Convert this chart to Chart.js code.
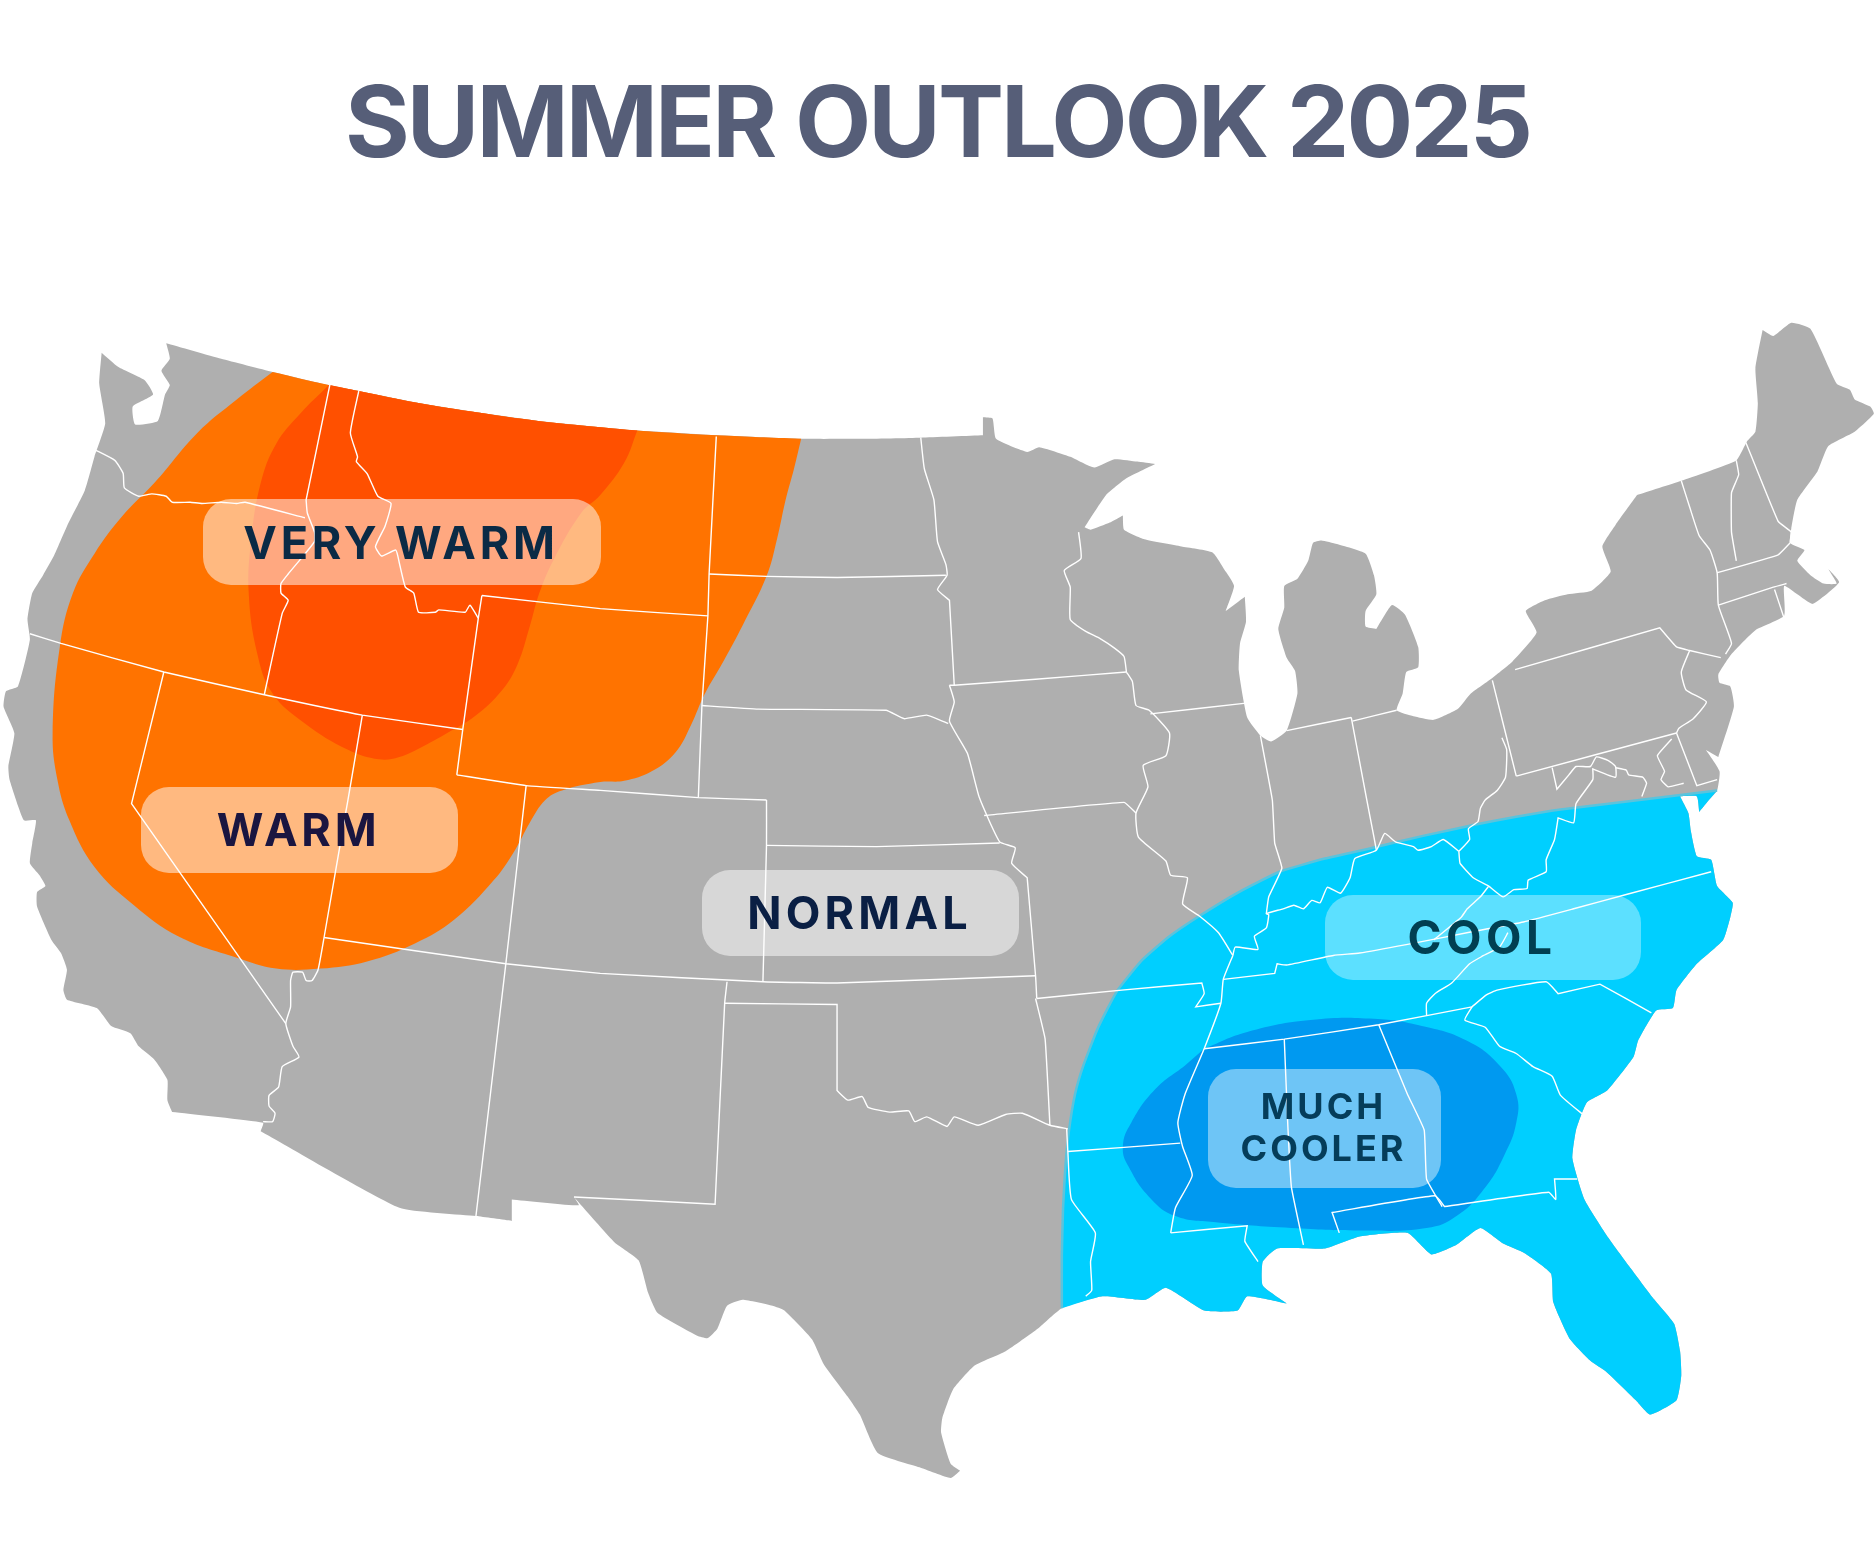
<!DOCTYPE html>
<html><head><meta charset="utf-8"><title>Summer Outlook 2025</title>
<style>html,body{margin:0;padding:0;background:#fff}canvas{display:block}</style>
<script src="https://cdn.jsdelivr.net/npm/chart.js@4"></script></head>
<body><canvas id="c" width="1875" height="1554"></canvas>
<script>
const chartTitle = "SUMMER OUTLOOK 2025";
const regionLabels = [["VERY WARM"],["WARM"],["NORMAL"],["COOL"],["MUCH","COOLER"]];

// Map data in map units (x 0-1568, y 0-1300)
const northBorder = [[139,287],[185,300],[228,311],[275,322],[300,327],[350,337],[400,345],[450,352],[500,357],[533,360],[600,364],[670,367],[720,367],[770,366],[822,364]];
const greatLakesShore = [[822,364],[822,349],[822,349],[830,350],[833,367],[859,378],[869,374],[895,382],[915,391],[932,384],[951,386],[966,388],[966,388],[942,400],[925,414],[907,441],[907,441],[912,443],[928,437],[939,431],[939,431],[940,443],[957,451],[988,457],[1014,462],[1025,478],[1032,490],[1025,511],[1025,511],[1041,499],[1041,499],[1042,520],[1037,538],[1036,561],[1043,600],[1054,615],[1063,620],[1076,611],[1085,580],[1083,561],[1076,550],[1069,526],[1074,508],[1074,490],[1085,484],[1094,469],[1098,454],[1105,452],[1118,455],[1142,463],[1149,481],[1151,497],[1142,511],[1142,524],[1151,526],[1151,526],[1164,506],[1175,514],[1186,541],[1186,558],[1176,562],[1173,580],[1168,594],[1182,599],[1199,602],[1219,593],[1230,580],[1248,567],[1265,553],[1285,529],[1276,511],[1292,502],[1311,497],[1331,494],[1347,478],[1340,457],[1351,439],[1369,414],[1369,414]];
const northeastCoast = [[1406,402],[1452,385],[1461,369],[1468,361],[1470,337],[1468,308],[1474,276],[1474,276],[1483,281],[1498,270],[1514,275],[1536,321],[1547,326],[1551,334],[1564,340],[1567,346],[1551,361],[1529,373],[1520,394],[1503,418],[1498,442],[1497,454],[1509,460],[1503,469],[1514,481],[1525,488],[1536,488],[1529,476],[1538,487],[1516,505],[1503,497],[1492,490],[1492,515],[1468,527],[1448,547],[1437,564],[1438,571],[1447,574],[1450,591],[1437,633],[1437,633],[1422,624],[1412,607],[1412,607],[1425,625],[1438,645]];
const southeastCoast = [[1436,661],[1430,668],[1421,679],[1421,679],[1419,666],[1405,666],[1405,666],[1412,680],[1414,695],[1419,716],[1431,719],[1436,741],[1449,755],[1447,767],[1441,786],[1419,806],[1402,828],[1399,843],[1385,845],[1370,870],[1366,884],[1344,912],[1327,922],[1318,945],[1315,969],[1325,1003],[1345,1035],[1364,1061],[1382,1085],[1400,1107],[1405,1130],[1406,1150],[1402,1171],[1380,1183],[1368,1171],[1343,1147],[1330,1138],[1313,1120],[1299,1089],[1297,1065],[1275,1048],[1257,1040],[1238,1027],[1218,1041],[1197,1049],[1177,1031],[1137,1034],[1108,1044],[1068,1044],[1056,1055],[1056,1075],[1076,1090],[1076,1090],[1043,1084],[1035,1096],[1007,1096],[975,1077],[958,1087],[922,1084],[888,1094]];
const texasCoast = [[868,1111],[841,1130],[815,1142],[797,1162],[788,1186],[787,1198],[795,1224],[803,1230],[803,1230],[795,1236],[769,1227],[734,1215],[719,1183],[709,1168],[689,1141],[679,1120],[656,1096],[646,1092],[621,1087],[608,1092],[600,1111],[592,1119],[583,1117],[550,1098],[542,1081],[534,1054],[514,1039],[487,1009],[480,1001],[480,1001]];
const mexicoBorder = [[484,1008],[428,1003],[428,1003],[428,1021],[428,1021],[398,1017],[334,1010],[218,946],[218,946],[220,939],[144,930],[144,930]];
const pacificCoast = [[140,920],[140,903],[129,886],[116,875],[109,864],[93,858],[81,843],[56,836],[53,828],[56,811],[51,797],[43,786],[31,758],[31,746],[38,741],[33,732],[25,722],[27,705],[30,686],[20,686],[8,652],[7,641],[12,613],[3,591],[5,578],[15,574],[25,535],[23,518],[27,496],[36,481],[45,465],[56,440],[71,410],[79,382],[88,354],[83,321],[85,295],[85,295],[99,307],[121,318],[128,330],[111,340],[113,355],[132,352],[138,330],[142,322],[135,310],[142,300],[139,287],[139,287]];

const warmEdge = [[670,367],[664,392],[657,418],[650,450],[641,482],[621,523],[605,553],[589,581],[578,606],[565,629],[545,645],[522,653],[502,654],[470,661],[456,669],[443,688],[430,712],[413,736],[380,769],[347,789],[307,804],[268,810],[231,810],[198,801],[149,783],[112,757],[79,725],[58,686],[48,652],[44,613],[50,541],[61,496],[79,463],[102,432],[129,404],[165,362],[198,334],[228,311]];
const veryWarmEdge = [[533,360],[522,387],[502,414],[486,429],[463,468],[451,496],[443,524],[433,555],[420,577],[397,599],[374,613],[354,624],[334,633],[317,635],[291,627],[255,605],[228,580],[215,546],[208,496],[210,452],[218,404],[231,371],[251,346],[275,322]];
const coolEdge = [[888,1094],[888,1050],[889,1010],[891,975],[894,945],[899,915],[906,891],[918,860],[934,829],[955,803],[978,783],[1003,766],[1036,746],[1070,729],[1108,718],[1148,709],[1190,699],[1232,690],[1268,683],[1305,677],[1371,669],[1436,661]];
const muchCoolerEdge = [[1007,877],[1043,863],[1096,853],[1149,852],[1189,858],[1226,870],[1254,891],[1268,915],[1268,939],[1258,966],[1242,993],[1218,1017],[1193,1027],[1137,1029],[1080,1027],[1015,1022],[983,1017],[962,1002],[944,976],[939,959],[946,939],[966,911],[991,891]];

const waOr = [[79,376],[96,385],[103,396],[104,408],[116,415],[127,413],[139,415],[144,420],[159,420],[169,421],[185,420],[198,421],[205,420],[255,433]];
const waId = [[276,321],[256,418],[256,418],[257,429],[263,445],[263,453],[251,468],[241,480],[235,488],[235,496],[241,502],[236,513],[221,581]];
const orCa = [[25,530],[51,538],[137,562],[221,581],[303,598],[387,610]];
const idMt = [[300,327],[293,362],[299,382],[298,386],[307,396],[316,415],[327,421],[322,440],[314,457],[319,465],[331,460],[334,471],[339,491],[346,496],[350,512],[364,512],[367,510],[389,512],[393,506],[400,517]];
const wyWest = [[403,498],[400,517],[387,610],[382,648]];
const wyNorth = [[403,498],[502,509],[592,515]];
const wyCoSouth = [[382,648],[440,657],[502,661],[584,667],[641,669]];
const mtDakota = [[599,365],[593,480],[592,515],[587,590],[584,667]];
const ndSd = [[593,480],[641,482],[700,483],[791,481]];
const sdNe = [[587,590],[634,593],[741,594],[756,601],[775,598],[793,605]];
const mnDakota = [[770,366],[773,392],[781,418],[784,453],[791,472],[792,481],[784,493],[794,502],[794,502],[798,573]];
const mnIa = [[794,573],[798,573],[866,568],[942,562]];
const missouriRiver = [[794,573],[798,587],[794,603],[809,630],[819,667],[836,704],[849,709],[846,722],[859,734],[859,734],[866,816],[867,835]];
const iaMo = [[823,682],[940,671],[950,680]];
const mnWi = [[902,445],[904,467],[890,477],[895,491],[895,518],[908,528],[920,534],[932,542],[940,549],[942,562]];
const upperMississippi = [[942,562],[947,570],[950,590],[961,594],[978,613],[975,632],[956,640],[960,658],[950,680],[952,700],[975,720],[979,732],[993,734],[989,756],[1003,766],[1019,780],[1031,799]];
const wiIl = [[962,597],[1042,588]];
const utEast = [[440,657],[423,806],[398,1017]];
const coKsWest = [[641,669],[641,707],[638,821]];
const ksNorth = [[641,707],[733,708],[836,705]];
const lat37 = [[271,784],[423,806],[502,814],[638,821],[700,822],[866,816]];
const nvUt = [[303,598],[291,669],[289,680],[271,784],[266,811],[261,820],[256,820],[253,813],[245,813],[243,820],[243,842],[239,856],[245,875],[250,884],[236,892],[233,909],[225,916],[225,925],[230,931],[228,938],[220,938]];
const caNv = [[137,562],[110,672],[110,672],[239,856]];
const nmTx = [[608,821],[606,839],[598,1007],[598,1007],[480,1001]];
const txPanhandle = [[606,839],[700,840],[700,840],[700,912],[700,912],[709,920],[721,917],[726,926],[744,930],[760,929],[765,938],[775,934],[792,942],[798,934],[818,941],[841,932],[855,931],[878,941],[893,944]];
const okAr = [[866,835],[874,869],[878,941]];
const moArk = [[867,835],[938,828],[1005,822],[1005,822],[1007,831],[1000,842],[1000,842],[1021,839]];
const ohioRiverWest = [[1031,799],[1033,792],[1052,794],[1049,783],[1059,776],[1061,765],[1059,764],[1073,760],[1082,757],[1090,760],[1097,753],[1104,755],[1110,742],[1121,747],[1129,734],[1133,718],[1151,711],[1158,697],[1167,704],[1182,708],[1186,711],[1197,708],[1207,702],[1220,712]];
const ilIn = [[1054,615],[1064,669],[1066,705],[1072,726],[1061,750],[1059,764]];
const inOh = [[1130,600],[1143,669],[1149,700],[1151,711]];
const michiganSouth = [[1076,611],[1130,600]];
const michiganOhio = [[1131,603],[1168,594]];
const lowerMississippi = [[1031,799],[1023,819],[1021,839],[1007,877],[991,915],[985,939],[989,959],[997,983],[983,1010],[979,1031]];
const kyTnVaNc = [[1023,819],[1066,814],[1066,814],[1068,806],[1068,806],[1076,807],[1115,799],[1137,797],[1176,790],[1232,779],[1274,771],[1316,760],[1360,748],[1431,729]];
const tnSouth = [[1007,877],[1074,869],[1153,857],[1231,842]];
const msAl = [[1074,869],[1077,942],[1080,993],[1090,1041]];
const alGa = [[1153,857],[1177,915],[1191,945],[1193,986],[1206,1009]];
const msLa = [[979,1031],[1043,1025],[1043,1025],[1041,1038],[1052,1055]];
const arLa = [[893,963],[987,956]];
const txLa = [[892,944],[893,963],[896,1003],[916,1031],[912,1055],[913,1079],[908,1084]];
const flNorth = [[1120,1031],[1114,1014],[1114,1014],[1200,1000],[1208,1009],[1208,1009],[1295,997],[1301,1003],[1300,986],[1300,986],[1319,986]];
const gaSc = [[1231,842],[1225,853],[1242,859],[1254,875],[1268,881],[1282,892],[1298,900],[1305,916],[1325,933]];
const ncSc = [[1231,842],[1243,832],[1252,828],[1293,821],[1303,831],[1303,831],[1338,823],[1338,823],[1381,847]];
const kyVa = [[1245,741],[1238,750],[1227,760],[1222,767],[1199,786]];
const tnNc = [[1261,780],[1254,792],[1239,800],[1229,806],[1214,822],[1200,831],[1193,839],[1193,849]];
const kyWv = [[1220,712],[1221,722],[1232,734],[1245,741]];
const vaWv = [[1245,741],[1257,750],[1266,744],[1277,743],[1278,736],[1293,729],[1293,719],[1300,702],[1303,684],[1303,684],[1316,688],[1318,672],[1332,652],[1332,643],[1332,643],[1351,650],[1351,641],[1345,636],[1335,633],[1330,641],[1318,641],[1312,648],[1302,660],[1302,660],[1298,642]];
const ohWv = [[1220,712],[1229,702],[1228,693],[1236,687],[1238,676],[1242,669],[1252,661],[1259,650],[1260,627],[1256,617]];
const ohPa = [[1248,569],[1268,649]];
const paSouth = [[1268,649],[1402,613]];
const paNy = [[1267,560],[1388,525],[1388,525],[1402,541],[1413,544],[1439,550]];
const paNj = [[1413,544],[1406,562],[1410,577],[1427,587],[1416,601],[1404,609],[1402,613]];
const delaware = [[1402,613],[1419,657],[1419,657],[1436,652]];
const chesapeake = [[1398,618],[1386,632],[1392,645],[1389,652],[1395,658],[1408,655]];
const potomac = [[1351,642],[1360,644],[1362,648],[1374,650],[1377,655],[1373,666]];
const nyVt = [[1406,402],[1413,424],[1421,448],[1430,460],[1436,479],[1437,506],[1448,538],[1443,547]];
const maNorth = [[1436,479],[1487,464],[1497,454]];
const maSouth = [[1437,506],[1483,491],[1494,488]];
const ctRi = [[1484,493],[1492,517]];
const vtNh = [[1452,385],[1454,397],[1448,412],[1448,445],[1452,469]];
const nhMe = [[1460,370],[1487,436],[1498,445],[1497,454]];

const landOutline = [...northBorder, ...greatLakesShore, ...northeastCoast, ...southeastCoast, ...texasCoast, ...mexicoBorder, ...pacificCoast];
const warmRegion = [...northBorder.slice(2,12), ...warmEdge];
const veryWarmRegion = [...northBorder.slice(3,10), ...veryWarmEdge];
const coolRegion = [...coolEdge, ...southeastCoast];
const muchCoolerRegion = muchCoolerEdge;
const stateBorders = [waOr,waId,orCa,idMt,wyWest,wyNorth,wyCoSouth,mtDakota,ndSd,sdNe,mnDakota,mnIa,missouriRiver,iaMo,mnWi,upperMississippi,wiIl,utEast,coKsWest,ksNorth,lat37,nvUt,caNv,nmTx,txPanhandle,okAr,moArk,ohioRiverWest,ilIn,inOh,michiganSouth,michiganOhio,lowerMississippi,kyTnVaNc,tnSouth,msAl,alGa,msLa,arLa,txLa,flNorth,gaSc,ncSc,kyVa,tnNc,kyWv,vaWv,ohWv,ohPa,paSouth,paNy,paNj,delaware,chesapeake,potomac,nyVt,maNorth,maSouth,ctRi,vtNh,nhMe];

const toPts = a => a.map(p => ({x:p[0], y:p[1]}));
const area = (name,data,color,tension) => ({label:name,data:toPts(data),showLine:true,fill:'shape',backgroundColor:color,borderWidth:0,borderColor:color,pointRadius:0,tension:tension||0});
const datasets = [
  ...stateBorders.map((b,i) => ({label:'border'+i,data:toPts(b),showLine:true,fill:false,borderColor:'#ffffff',borderWidth:1.4,pointRadius:0,tension:b.length>6?0.15:0.1})),
  {label:'Cool fringe',data:toPts(coolEdge),showLine:true,fill:false,borderColor:'#5BC3DC',borderWidth:2.5,pointRadius:0,tension:0.15},
  area('Much cooler',muchCoolerRegion,'#0099F0',0.45),
  area('Cool',coolRegion,'#00CFFF',0.15),
  area('Very warm',veryWarmRegion,'#FF5000',0.4),
  area('Warm',warmRegion,'#FF7300',0.4),
  area('Land',landOutline,'#AFAFAF',0.15)
];

const titleBlock = 200, unit = 1875/1568;
const labelStyles = [
 {x0:203,y0:499,x1:601,y1:585,alpha:.5,color:'#0B2A45',size:45,gap:3.8,lines:[545.5]},
 {x0:141,y0:787,x1:458,y1:873,alpha:.5,color:'#1A1540',size:45,gap:3.8,lines:[832]},
 {x0:702,y0:870,x1:1019,y1:956,alpha:.5,color:'#0A1F44',size:45,gap:4.2,lines:[915.5]},
 {x0:1325,y0:895,x1:1641,y1:980,alpha:.36,color:'#013F52',size:46,gap:4.5,lines:[940.5]},
 {x0:1208,y0:1069,x1:1441,y1:1188,alpha:.43,color:'#053D5A',size:36,gap:3,lines:[1108,1150.5]}
];
const labelPlugin = {id:'regionLabels',
 beforeDraw(chart){ chart.ctx.letterSpacing='-2.9px'; },
 beforeDatasetsDraw(chart){ chart.ctx.letterSpacing='0px'; },
 afterDatasetsDraw(chart){
  const ctx = chart.ctx;
  regionLabels.forEach((lines,i)=>{
    const s = labelStyles[i];
    ctx.save();
    ctx.fillStyle = `rgba(255,255,255,${s.alpha})`;
    ctx.beginPath();
    ctx.roundRect(s.x0,s.y0,s.x1-s.x0,s.y1-s.y0,28);
    ctx.fill();
    ctx.fillStyle = s.color;
    ctx.font = `700 ${s.size}px Inter`;
    ctx.textAlign = 'center';
    ctx.textBaseline = 'middle';
    ctx.letterSpacing = s.gap+'px';
    lines.forEach((t,j)=>ctx.fillText(t,(s.x0+s.x1)/2-1,s.lines[j]));
    ctx.restore();
  });
}};

new Chart(document.getElementById('c'),{
  type:'scatter',
  data:{datasets},
  plugins:[labelPlugin],
  options:{
    responsive:false,animation:false,devicePixelRatio:1,
    layout:{padding:0},
    scales:{
      x:{type:'linear',display:false,min:0,max:1568},
      y:{type:'linear',display:false,reverse:true,min:titleBlock/unit,max:1554/unit}
    },
    plugins:{
      legend:{display:false},tooltip:{enabled:false},
      title:{display:true,text:chartTitle,color:'#565E78',font:{family:'Inter',size:99,weight:'700',lineHeight:1},padding:{top:78,bottom:23}}
    }
  }
});
</script></body></html>
